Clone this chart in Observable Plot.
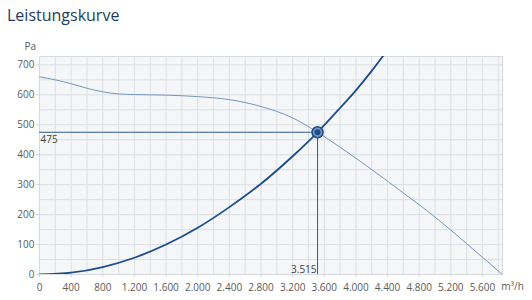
<!DOCTYPE html>
<html>
<head>
<meta charset="utf-8">
<script src="https://cdn.jsdelivr.net/npm/d3@7"></script>
<script src="https://cdn.jsdelivr.net/npm/@observablehq/plot@0.6"></script>
<style>
  html, body { margin: 0; padding: 0; background: #fff; }
  #title { font-family: "Open Sans", "Noto Sans", sans-serif; font-size: 16px; color: #1d3d5e; height: 32px; line-height: 31px; padding-left: 7px; box-sizing: border-box; }
  #chart svg { display: block; }
</style>
</head>
<body>
<div id="title">Leistungskurve</div>
<div id="chart"></div>
<script>
// Fan curve (m³/h -> Pa)
const fanFlow     = [0, 200, 400, 600, 800, 1000, 1200, 1600, 2000, 2400, 2800, 3200, 3515, 3800, 4150, 4550, 5000, 5400, 5850];
const fanPressure = [660, 650, 637, 622, 610, 603, 601, 599, 594, 584, 561, 523, 475, 425, 360, 282, 192, 103, 0];
// System curve
const sysFlow     = [0, 400, 800, 1200, 1600, 2000, 2400, 2800, 3200, 3515, 3800, 4000, 4200, 4400];
const sysPressure = [0, 6, 25, 56, 100, 156, 225, 303, 395, 475, 556, 615, 680, 750];
// Operating point
const opFlow = 3515;
const opPressure = 475;
const opFlowLabel = "3.515";
const opPressureLabel = "475";
// Axes
const xTicks = [0, 400, 800, 1200, 1600, 2000, 2400, 2800, 3200, 3600, 4000, 4400, 4800, 5200, 5600];
const yTicks = [0, 100, 200, 300, 400, 500, 600, 700];
const xGrid = d3.range(0, 5801, 200);
const yGrid = d3.range(0, 701, 50);
const xUnit = "m³/h";
const yUnit = "Pa";

const de = d3.formatLocale({decimal: ",", thousands: ".", grouping: [3], currency: ["", "€"]});
const fmt = de.format(",");

const fan = fanFlow.map((x, i) => ({x, y: fanPressure[i]}));
const sys = sysFlow.map((x, i) => ({x, y: sysPressure[i]}));

const plot = Plot.plot({
  width: 532,
  height: 268,
  marginTop: 24,
  marginBottom: 26,
  marginLeft: 39,
  marginRight: 30,
  style: {fontFamily: "'Open Sans', 'Noto Sans', sans-serif", fontSize: "10px", color: "#555", background: "transparent"},
  x: {domain: [0, 5853], label: null},
  y: {domain: [0, 728], label: null},
  marks: [
    Plot.frame({fill: "#f4f6f8", stroke: "none"}),
    Plot.gridX(xGrid, {stroke: "#dcdfe3", strokeOpacity: 1}),
    Plot.gridY(yGrid, {stroke: "#dcdfe3", strokeOpacity: 1}),
    Plot.frame({stroke: "#d6d9de"}),
    Plot.axisX({ticks: xTicks, tickFormat: fmt, tickSize: 3, tickPadding: 6, stroke: "#cfd3d8", fill: "#5a5a5a", label: null}),
    Plot.axisY({ticks: yTicks, tickFormat: fmt, tickSize: 3, tickPadding: 2, stroke: "#cfd3d8", fill: "#5a5a5a", label: null}),
    Plot.ruleY([opPressure], {x1: 0, x2: opFlow, stroke: "#2d5b91", strokeWidth: 1}),
    Plot.ruleX([opFlow], {y1: 0, y2: opPressure, stroke: "#2d5b91", strokeWidth: 1}),
    Plot.line(fan, {x: "x", y: "y", curve: "monotone-x", stroke: "#7497c4", strokeWidth: 1, clip: true}),
    Plot.line(sys, {x: "x", y: "y", curve: "monotone-x", stroke: "#1c4c8a", strokeWidth: 1.8, clip: true}),
    Plot.dot([{x: opFlow, y: opPressure}], {x: "x", y: "y", r: 5.5, fill: "#7497c4", stroke: "#1c4c8a", strokeWidth: 1.5}),
    Plot.dot([{x: opFlow, y: opPressure}], {x: "x", y: "y", r: 3, fill: "#1c4c8a"}),
    Plot.text([opPressureLabel], {x: 0, y: opPressure, text: d => d, textAnchor: "start", dx: 1, dy: 8, fill: "#444", fontSize: 10}),
    Plot.text([opFlowLabel], {x: opFlow, y: 0, text: d => d, textAnchor: "end", dx: -1, dy: -5, fill: "#444", fontSize: 10}),
    Plot.text([yUnit], {frameAnchor: "top-left", text: d => d, dx: -15, dy: -14, fill: "#5a5a5a", fontSize: 10}),
    Plot.text([xUnit], {frameAnchor: "bottom-right", text: d => d, textAnchor: "middle", dx: 10, dy: 15, fill: "#5a5a5a", fontSize: 10})
  ]
});
document.getElementById("chart").appendChild(plot);
</script>
</body>
</html>
